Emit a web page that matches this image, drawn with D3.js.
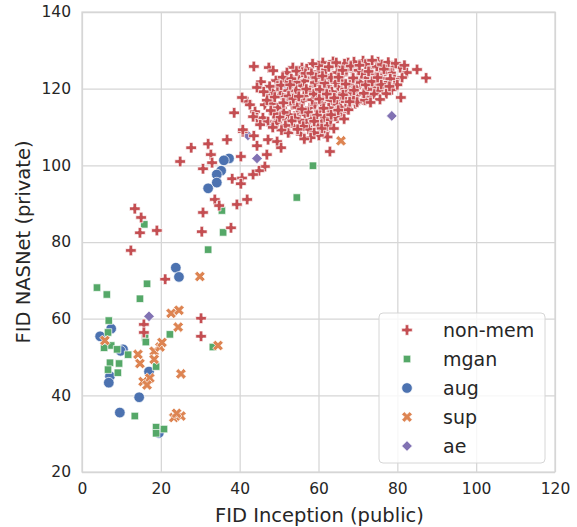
<!DOCTYPE html>
<head>
  <meta charset="utf-8">
  <script src="https://cdn.jsdelivr.net/npm/d3@7"></script>
</head>
<style>
  body { margin: 0; background: #fff; }
  text { font-family: "DejaVu Sans", sans-serif; fill: #262626; }
</style>
<body>
<script>

// hue order as it shows in the legend
var groups = ["non-mem", "mgan", "aug", "sup", "ae"];
var colors = ["#c44e52", "#55a868", "#4c72b0", "#dd8452", "#8172b3"];
var xTicks = [0, 20, 40, 60, 80, 100, 120];
var yTicks = [20, 40, 60, 80, 100, 120, 140];

// [FID Inception (public), FID NASNet (private)]
var nonMem = [
  [13.4,88.7],[15.0,86.4],[14.7,82.4],[19.0,83.0],[12.4,77.8],[21.1,70.3],[15.7,58.5],[15.7,56.4],[30.2,60.1],[30.2,55.4],
  [24.9,101.0],[27.7,104.6],[32.0,105.6],[32.7,102.8],[33.0,100.7],[30.7,99.1],[36.8,106.7],[38.6,113.7],[40.8,108.8],[43.6,107.7],
  [47.2,106.7],[49.5,106.2],[50.5,104.6],[52.5,108.6],[44.4,105.1],[40.3,102.3],[46.9,102.8],[46.4,99.7],[44.9,98.6],[43.4,97.6],
  [38.1,96.5],[40.6,96.7],[40.3,95.2],[33.7,91.1],[34.8,89.5],[39.3,89.8],[41.9,91.1],[30.7,87.7],[30.4,82.7],[37.8,83.7],
  [62.9,103.6],[80.9,117.7],[85.0,125.0],[87.3,122.8],[82.4,124.2],[81.2,122.9],[60.6,111.2],[61.6,108.8],[58.6,110.0],[72.8,117.9],
  [43.6,125.8],[47.4,125.5],[48.5,124.7],[45.4,121.8],[44.4,120.3],[49.2,122.1],[47.2,118.4],[41.9,116.6],[40.6,117.7],[42.6,115.8],
  [43.9,114.0],[44.4,112.4],[46.4,115.8],[48.2,116.1],[45.9,112.4],[47.2,111.4],[49.0,111.4],[50.7,115.0],[52.3,108.5],[52.0,111.9],
  [53.3,115.8],[54.8,113.7],[56.6,113.2],[57.8,115.0],[55.3,116.6],[57.1,118.4],[53.3,120.3],[54.8,123.1],[57.1,123.1],[58.6,122.8],
  [53.5,125.5],[55.8,125.5],[61.1,126.8],[63.4,126.3],[60.4,121.0],[62.4,120.5],[61.1,117.7],[59.6,118.4],[59.1,115.8],[60.9,111.4],
  [59.9,110.1],[61.1,108.8],[63.7,115.8],[62.4,113.7],[64.7,119.2],[49.7,115.0],[50.7,118.4],[51.5,121.8],[52.0,124.2],[49.5,111.2],
  [45.2,110.6],[43.4,112.7],[40.8,109.3],
  [78.9,125.5],[80.7,125.5],[75.1,127.0],[71.3,127.3],[73.1,125.5],[75.6,124.4],[76.9,123.9],[74.3,121.8],[76.4,120.5],[78.6,119.7],
  [72.6,117.9],[73.8,120.2],[71.3,120.2],[69.8,122.3],[69.5,125.5],[67.5,126.8],[65.4,125.8],[63.7,127.1],[64.7,124.2],[66.2,123.6],
  [68.0,121.0],[64.9,120.5],[63.4,119.2],[65.4,117.9],[67.5,117.7],[70.0,118.4],[71.3,117.1],[69.3,116.1],[67.2,115.3],[64.7,115.8],
  [66.2,113.7],[63.7,114.0],
  [50.2,119.6],[51.8,117.2],[53.9,118.9],[55.6,120.8],[56.4,122.0],[58.2,120.1],[59.8,124.4],[61.9,124.9],[62.8,122.6],[60.0,126.0],
  [58.5,126.5],[57.0,125.2],[54.2,121.7],[52.9,116.9],[54.6,115.1],[56.1,116.9],[58.4,117.1],[60.2,114.2],[61.6,112.6],[58.3,112.1],
  [56.9,110.9],[55.2,111.8],[53.7,110.2],[57.5,109.4],[62.2,110.3],[63.1,111.9],[64.8,112.3],[65.6,115.2],[66.9,116.6],[68.4,118.9],
  [69.6,120.2],[70.7,121.6],[72.1,122.8],[73.4,123.7],[74.8,125.8],[76.1,126.3],[77.7,126.9],[78.4,124.1],[79.3,122.4],[77.4,121.7],
  [75.2,119.4],[74.1,118.6],[72.4,119.8],[70.9,123.9],[68.6,124.6],[67.1,124.9],[65.9,122.1],[66.8,119.9],[68.9,117.3],[69.8,116.5],
  [71.8,117.0],[67.6,114.5],[65.5,113.2],[64.3,112.8],[63.9,109.6],[60.8,109.6],[62.3,107.4],[60.1,107.8],[58.9,108.5],[55.5,108.1],
  [52.6,113.2],[51.2,113.8],[50.1,112.6],[48.6,113.5],[47.9,114.3],[46.9,117.0],[48.3,119.3],[49.6,120.7],[50.9,123.0],[53.1,122.6],
  [55.9,124.3],[59.1,121.6],[61.8,119.3],[63.0,117.0],[57.9,119.5],[56.3,118.2],[54.3,119.6],[52.3,119.5],[60.7,116.2],[62.6,115.0],
  [64.3,121.6],[66.6,126.5],[69.0,127.0],[71.9,126.4],[73.6,127.4],[76.0,122.7],[79.6,126.6],[81.8,126.1],[80.0,121.0],[77.2,118.7],
  [75.6,117.2],[73.2,116.4],[58.0,107.2],[56.4,106.9],
  [51.1,116.3],[52.4,118.1],[53.6,117.4],[55.0,118.0],[56.9,119.9],[58.8,118.6],[60.3,119.8],[61.5,121.5],[63.2,122.9],[65.1,123.0],
  [66.9,121.2],[68.8,122.8],[70.2,124.8],[72.7,124.5],[74.6,123.0],[75.9,121.1],[78.2,122.6],[77.0,125.0],[71.5,118.8],[69.0,119.6],
  [67.9,116.6],[66.2,118.4],[64.0,117.6],[62.1,118.6],[60.2,117.3],[59.6,113.1],[57.3,113.9],[55.8,114.7],[54.0,112.3],[56.1,110.2],
  [58.9,111.5],[61.3,114.9],[63.2,113.2],[65.0,114.4],[66.5,112.1],[54.7,109.4],[53.2,111.6],[51.6,110.4],[50.6,109.2],[48.4,109.9],
  [47.6,120.6],[46.1,119.2],[48.9,117.8],[50.5,120.9],[52.8,121.0],[54.4,124.6],[56.7,124.0],[58.2,124.0],[59.4,122.9],[61.0,123.3],
  [62.6,125.7],[64.5,126.8],[66.1,124.8],[68.2,125.9],[70.4,126.1],[72.0,121.0],[73.6,121.9],[75.0,122.9],[76.6,125.1],[78.0,120.6]
];

var mgan = [
  [15.8,84.6],[32.0,78.0],[16.5,69.1],[3.8,68.1],[6.3,66.3],[14.7,65.2],[35.8,82.5],[35.5,88.2],[54.5,91.6],[58.6,99.9],
  [6.8,59.5],[6.6,56.4],[22.3,55.9],[7.4,53.0],[5.6,52.4],[8.9,52.0],[11.7,50.6],[7.1,48.5],[9.4,48.3],[6.6,46.7],
  [9.1,45.9],[16.0,55.1],[18.8,47.5],[13.4,34.6],[18.8,31.7],[18.8,30.1],[20.8,31.2],[33.2,52.6],[16.2,53.9]
];

var aug = [
  [37.3,101.8],[36.0,101.3],[35.3,98.6],[34.2,97.6],[34.2,95.5],[32.0,94.0],[23.8,73.3],[24.6,70.9],[4.6,55.4],[7.4,57.4],
  [10.4,52.0],[7.1,45.0],[6.8,43.3],[17.0,46.2],[14.5,39.5],[9.6,35.5],[19.5,30.2],[9.8,51.6]
];

var sup = [
  [65.7,106.4],[29.9,71.0],[22.6,61.4],[24.6,62.2],[24.4,57.8],[14.2,50.7],[14.7,48.3],[15.5,43.6],[18.3,51.5],[18.3,49.4],
  [19.8,52.6],[5.8,54.3],[25.1,45.6],[23.3,34.2],[25.1,34.6],[34.5,53.0],[17.2,44.5],[16.5,42.7],[20.3,53.8],[24.0,35.3]
];

var ae = [[78.6,112.9],[44.4,101.8],[42.1,107.8],[17.0,60.6],[52.3,120.3],[48.5,110.6]];

var seriesData = [nonMem, mgan, aug, sup, ae];

var margin = {top: 12, right: 22, bottom: 55, left: 82},
    width = 473,
    height = 460;

var svg = d3.select("body").append("svg")
    .attr("width", 577)
    .attr("height", 527)
  .append("g")
    .attr("transform", "translate(" + margin.left + "," + margin.top + ")");

var x = d3.scaleLinear().domain([0, 120]).range([0, width]);
var y = d3.scaleLinear().domain([20, 140]).range([height, 0]);

// grid lines come from the axes themselves
var xAxis = svg.append("g")
    .attr("transform", "translate(0," + height + ")")
    .call(d3.axisBottom(x).tickValues(xTicks).tickSize(-height).tickPadding(11));
var yAxis = svg.append("g")
    .call(d3.axisLeft(y).tickValues(yTicks).tickSize(-width).tickPadding(11));

[xAxis, yAxis].forEach(function(a) {
  a.select(".domain").remove();
  a.selectAll("line").attr("stroke", "#d6d6d6").attr("stroke-width", 1.25);
  a.selectAll("text").attr("font-size", 15.5).attr("fill", "#262626")
    .attr("font-family", "DejaVu Sans, sans-serif");
});

svg.append("rect")
    .attr("width", width).attr("height", height)
    .attr("fill", "none").attr("stroke", "#d6d6d6").attr("stroke-width", 1.25);

// marker shapes, R = half the marker extent
var R = 5.3;
function poly(pts) {
  return {draw: function(ctx) {
    ctx.moveTo(pts[0][0], pts[0][1]);
    for (var i = 1; i < pts.length; i++) ctx.lineTo(pts[i][0], pts[i][1]);
    ctx.closePath();
  }};
}
var t = R / 3, q = R / 2, s = R * Math.SQRT1_2;
var shapes = [
  poly([[-t,-R],[t,-R],[t,-t],[R,-t],[R,t],[t,t],[t,R],[-t,R],[-t,t],[-R,t],[-R,-t],[-t,-t]]),
  poly([[-s,-s],[s,-s],[s,s],[-s,s]]),
  {draw: function(ctx) { ctx.moveTo(R, 0); ctx.arc(0, 0, R, 0, 2 * Math.PI); }},
  poly([[-q,-2*q],[0,-q],[q,-2*q],[2*q,-q],[q,0],[2*q,q],[q,2*q],[0,q],[-q,2*q],[-2*q,q],[-q,0],[-2*q,-q]]),
  poly([[0,-R],[R,0],[0,R],[-R,0]])
];

// draw order so the red crosses sit on top
var drawOrder = [4, 2, 1, 3, 0];
drawOrder.forEach(function(k) {
  svg.append("g").selectAll("path")
      .data(seriesData[k])
    .enter().append("path")
      .attr("d", d3.symbol().type(shapes[k]))
      .attr("transform", function(d) { return "translate(" + x(d[0]) + "," + y(d[1]) + ")"; })
      .attr("fill", colors[k])
      .attr("stroke", "#fff")
      .attr("stroke-width", 0.7);
});

// axis titles
svg.append("text")
    .attr("x", width / 2 + 1).attr("y", height + 50)
    .attr("text-anchor", "middle").attr("font-size", 19.5)
    .text("FID Inception (public)");
svg.append("text")
    .attr("transform", "translate(" + (-52) + "," + (height / 2) + ") rotate(-90)")
    .attr("text-anchor", "middle").attr("font-size", 19.5)
    .text("FID NASNet (private)");

// legend
var legend = svg.append("g").attr("transform", "translate(" + (379 - margin.left) + "," + (313 - margin.top) + ")");
legend.append("rect")
    .attr("width", 166).attr("height", 150).attr("rx", 4)
    .attr("fill", "#fff").attr("fill-opacity", 0.8)
    .attr("stroke", "#d6d6d6").attr("stroke-width", 1);
var rows = legend.selectAll(".row")
    .data(groups)
  .enter().append("g")
    .attr("class", "row")
    .attr("transform", function(d, i) { return "translate(0," + (17 + i * 29) + ")"; });
rows.append("path")
    .attr("transform", "translate(28,0)")
    .attr("d", function(d, i) { return d3.symbol().type(shapes[i])(); })
    .attr("fill", function(d, i) { return colors[i]; })
    .attr("stroke", "#fff").attr("stroke-width", 0.7);
rows.append("text")
    .attr("x", 64).attr("dy", "0.35em")
    .attr("font-size", 19)
    .text(function(d) { return d; });

</script>
</body>
